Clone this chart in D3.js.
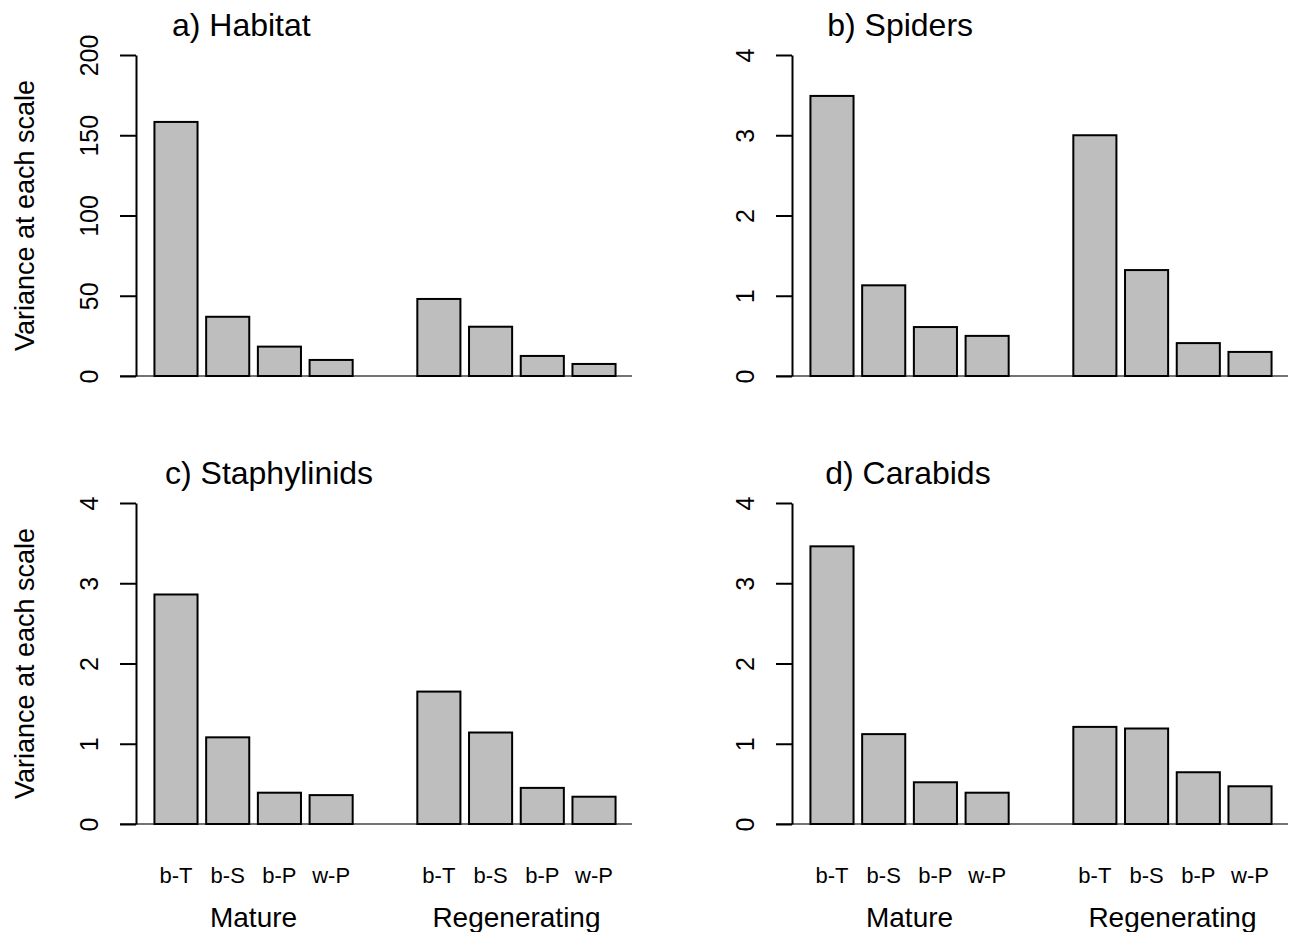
<!DOCTYPE html>
<html>
<head>
<meta charset="utf-8">
<script src="https://cdn.jsdelivr.net/npm/d3@7"></script>
<style>
  body { margin: 0; background: #fff; }
  svg { display: block; font-family: "Liberation Sans", Arial, sans-serif; }
</style>
</head>
<body>
<svg id="chart" width="1295" height="932"></svg>
<script>
// values
const scales = ["b-T", "b-S", "b-P", "w-P"];
const forests = ["Mature", "Regenerating"];
const titles = ["a) Habitat", "b) Spiders", "c) Staphylinids", "d) Carabids"];

const habitatMature = [158.3, 36.9, 18.3, 10.0];
const habitatRegen = [48.0, 30.7, 12.5, 7.5];
const spidersMature = [3.49, 1.13, 0.61, 0.50];
const spidersRegen = [3.0, 1.32, 0.41, 0.30];
const staphMature = [2.86, 1.08, 0.39, 0.36];
const staphRegen = [1.65, 1.14, 0.45, 0.34];
const carabMature = [3.46, 1.12, 0.52, 0.39];
const carabRegen = [1.21, 1.19, 0.645, 0.47];

const habitatTicks = [0, 50, 100, 150, 200];
const countTicks = [0, 1, 2, 3, 4];

const panels = [
    { title: titles[0], mature: habitatMature, regen: habitatRegen, ymax: 200, ticks: habitatTicks, col: 0, row: 0 },
    { title: titles[1], mature: spidersMature, regen: spidersRegen, ymax: 4, ticks: countTicks, col: 1, row: 0 },
    { title: titles[2], mature: staphMature, regen: staphRegen, ymax: 4, ticks: countTicks, col: 0, row: 1 },
    { title: titles[3], mature: carabMature, regen: carabRegen, ymax: 4, ticks: countTicks, col: 1, row: 1 },
];

// barplot layout in user units (width 1, space 0.2 inside a group, 1.5 between)
const barW = 1, space = 0.2, groupSpace = 1.5;
function barStarts() {
    let out = [], pos = 0;
    for (let g = 0; g < 2; g++) {
        for (let i = 0; i < 4; i++) {
            pos += (i === 0 && g > 0) ? groupSpace : space;
            out.push(pos);
            pos += barW;
        }
    }
    return out;
}
const starts = barStarts();

const svg = d3.select("#chart");
const colW = 656, rowH = 448;

for (let p of panels) {
    const g = svg.append("g")
        .attr("transform", `translate(${p.col * colW},${p.row * rowH})`);

    const x = d3.scaleLinear().domain([-0.228, 11.328]).range([136, 634]);
    const y = d3.scaleLinear().domain([0, p.ymax]).range([376, 55]);
    const values = p.mature.concat(p.regen);

    // zero line
    g.append("line")
        .attr("x1", 120)
        .attr("x2", 632)
        .attr("y1", y(0))
        .attr("y2", y(0))
        .attr("stroke", "#444")
        .attr("stroke-width", 1.5);

    g.selectAll("rect.bar")
        .data(values)
        .join("rect")
        .attr("class", "bar")
        .attr("x", (d, i) => x(starts[i]))
        .attr("width", (d, i) => x(starts[i] + barW) - x(starts[i]))
        .attr("y", d => y(d))
        .attr("height", d => y(0) - y(d))
        .attr("fill", "#bebebe")
        .attr("stroke", "#000")
        .attr("stroke-width", 2);

    const ax = g.append("g")
        .attr("transform", `translate(${x(-0.228)},0)`)
        .call(d3.axisLeft(y).tickValues(p.ticks).tickFormat(d3.format("d"))
            .tickSize(16).tickSizeOuter(0));
    ax.select(".domain").attr("stroke", "#000").attr("stroke-width", 2);
    ax.selectAll(".tick line").attr("stroke", "#000").attr("stroke-width", 2);
    ax.selectAll(".tick text")
        .attr("x", null)
        .attr("dy", null)
        .attr("transform", "translate(-38,0) rotate(-90)")
        .attr("text-anchor", "middle")
        .attr("fill", "#000")
        .attr("font-family", "Liberation Sans, Arial, sans-serif")
        .attr("font-size", 25);

    // title, R style adj = 0.1 across the plot region
    const t = g.append("text")
        .attr("y", 36)
        .attr("font-size", 32)
        .attr("fill", "#000")
        .text(p.title);
    const tw = t.node().getComputedTextLength();
    const [r0, r1] = x.range();
    t.attr("x", r0 + 0.1 * (r1 - r0 - tw));

    if (p.col === 0) {
        g.append("text")
            .attr("transform", `translate(34,${(y.range()[0] + y.range()[1]) / 2}) rotate(-90)`)
            .attr("text-anchor", "middle")
            .attr("font-size", 27)
            .attr("fill", "#000")
            .text("Variance at each scale");
    }

    if (p.row === 1) {
        g.selectAll("text.scale")
            .data(scales.concat(scales))
            .join("text")
            .attr("class", "scale")
            .attr("x", (d, i) => x(starts[i] + barW / 2))
            .attr("y", 883 - rowH)
            .attr("text-anchor", "middle")
            .attr("font-size", 22)
            .attr("fill", "#000")
            .text(d => d);

        g.selectAll("text.forest")
            .data(forests)
            .join("text")
            .attr("class", "forest")
            .attr("x", (d, i) => x((starts[i * 4] + starts[i * 4 + 3] + barW) / 2))
            .attr("y", 927 - rowH)
            .attr("text-anchor", "middle")
            .attr("font-size", 28)
            .attr("fill", "#000")
            .text(d => d);
    }
}
</script>
</body>
</html>
